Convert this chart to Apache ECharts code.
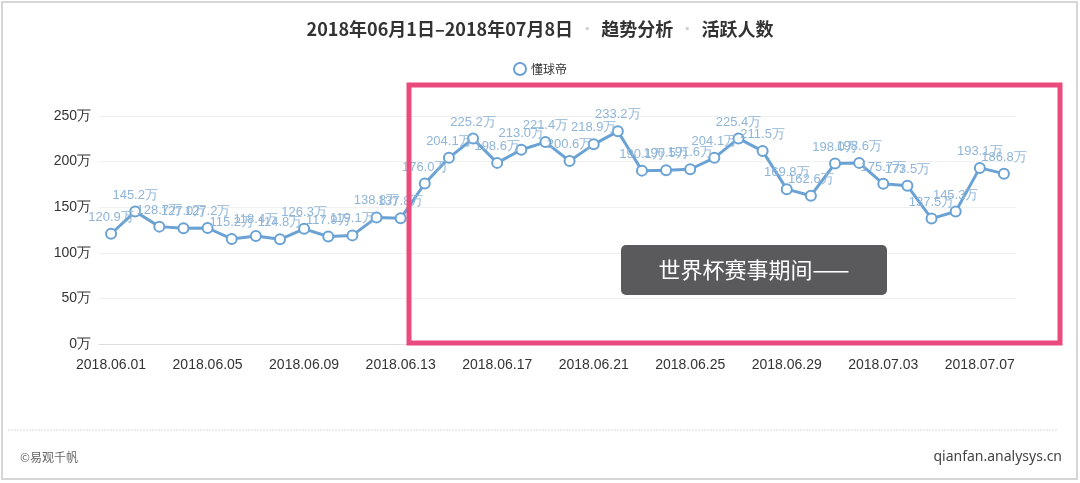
<!DOCTYPE html>
<html>

<head>
    <title></title>
    <meta charset="utf-8">
    <script src="https://cdn.jsdelivr.net/npm/echarts@6/dist/echarts.min.js"></script>
    <style>
        html,
        body {
            margin: 0;
            padding: 0;
            background: #fff;
        }

        #main {
            width: 1080px;
            height: 483px;
        }
    </style>
</head>

<body>
    <div id="main"></div>
    <script type="text/javascript">
        // 日期
        var dates = ['2018.06.01', '2018.06.02', '2018.06.03', '2018.06.04', '2018.06.05', '2018.06.06',
            '2018.06.07', '2018.06.08', '2018.06.09', '2018.06.10', '2018.06.11', '2018.06.12',
            '2018.06.13', '2018.06.14', '2018.06.15', '2018.06.16', '2018.06.17', '2018.06.18',
            '2018.06.19', '2018.06.20', '2018.06.21', '2018.06.22', '2018.06.23', '2018.06.24',
            '2018.06.25', '2018.06.26', '2018.06.27', '2018.06.28', '2018.06.29', '2018.06.30',
            '2018.07.01', '2018.07.02', '2018.07.03', '2018.07.04', '2018.07.05', '2018.07.06',
            '2018.07.07', '2018.07.08'];
        // 活跃人数（万）
        var active = [120.9, 145.2, 128.7, 127.0, 127.2, 115.2, 118.4, 114.8, 126.3, 117.9, 119.1, 138.8,
            137.8, 176.0, 204.1, 225.2, 198.6, 213.0, 221.4, 200.6, 218.9, 233.2, 190.1, 190.5,
            191.6, 204.1, 225.4, 211.5, 169.8, 162.6, 198.0, 198.6, 175.7, 173.5, 137.5, 145.3,
            193.1, 186.8];
        var yTicks = [0, 50, 100, 150, 200, 250];

        var myChart = echarts.init(document.getElementById('main'));
        var option = {
            backgroundColor: '#fff',
            title: {
                text: '2018年06月1日–2018年07月8日 {d|▪} 趋势分析 {d|▪} 活跃人数',
                left: 'center',
                top: 15,
                textStyle: {
                    fontFamily: 'Noto Sans CJK SC',
                    fontSize: 18,
                    fontWeight: 'bold',
                    color: '#333',
                    rich: {
                        d: { color: '#ccc', fontSize: 10, padding: [0, 5, 0, 5] }
                    }
                }
            },
            legend: {
                data: ['懂球帝'],
                top: 57,
                left: 'center',
                icon: 'emptyCircle',
                itemWidth: 12,
                itemHeight: 12,
                itemGap: 6,
                textStyle: { fontFamily: 'Noto Sans CJK SC', fontSize: 12, color: '#333' }
            },
            grid: {
                left: 99,
                right: 64,
                top: 116,
                bottom: 139,
                containLabel: false
            },
            xAxis: {
                type: 'category',
                data: dates,
                boundaryGap: true,
                axisLine: { lineStyle: { color: '#ddd' } },
                axisTick: { lineStyle: { color: '#ddd' }, interval: 3 },
                axisLabel: {
                    interval: 3,
                    color: '#333',
                    fontSize: 14,
                    margin: 14,
                    fontFamily: 'Liberation Sans'
                }
            },
            yAxis: {
                type: 'value',
                min: yTicks[0],
                max: yTicks[yTicks.length - 1],
                interval: 50,
                axisLine: { show: false },
                axisTick: { show: false },
                splitLine: { lineStyle: { color: '#f0f0f0' } },
                axisLabel: {
                    color: '#333',
                    fontSize: 14,
                    margin: 8,
                    fontFamily: 'Liberation Sans',
                    formatter: '{value}万'
                }
            },
            series: [{
                name: '懂球帝',
                type: 'line',
                data: active,
                symbol: 'emptyCircle',
                symbolSize: 10,
                lineStyle: { width: 3, color: '#6aa2d4' },
                itemStyle: { color: '#6aa2d4', borderWidth: 2, borderColor: '#6aa2d4' },
                label: {
                    show: true,
                    position: 'top',
                    distance: 4,
                    color: '#8fb5d8',
                    fontSize: 13,
                    fontFamily: 'Liberation Sans',
                    formatter: function (p) { return p.value.toFixed(1) + '万'; }
                },
                labelLayout: { hideOverlap: false },
                z: 3
            }],
            graphic: [
                // 外框
                { type: 'rect', shape: { x: 2, y: 2, width: 1075, height: 477 }, style: { fill: 'none', stroke: '#d6d6d6', lineWidth: 2 }, silent: true },
                // 底部分隔线
                { type: 'line', shape: { x1: 8, y1: 430, x2: 1058, y2: 430 }, style: { stroke: '#d8d8d8', lineWidth: 1, lineDash: [2, 1] }, silent: true },
                // 世界杯期间框
                { type: 'rect', shape: { x: 409, y: 85, width: 651, height: 258 }, style: { fill: 'none', stroke: '#ea4a7c', lineWidth: 5 }, z: 10, silent: true },
                // 提示
                { type: 'rect', shape: { x: 621, y: 245, width: 266, height: 50, r: 5 }, style: { fill: '#5a595b' }, z: 10, silent: true },
                {
                    type: 'text', x: 754, y: 270, z: 11, silent: true,
                    style: { text: '世界杯赛事期间——', fill: '#fff', fontSize: 22, fontFamily: 'Noto Sans CJK SC', align: 'center', verticalAlign: 'middle' }
                },
                {
                    type: 'text', x: 20, y: 457, silent: true,
                    style: { text: '©易观千帆', fill: '#666', fontSize: 12, fontFamily: 'Noto Sans CJK SC', verticalAlign: 'middle' }
                },
                {
                    type: 'text', x: 1062, y: 457, silent: true,
                    style: { text: 'qianfan.analysys.cn', fill: '#444', fontSize: 14, fontFamily: 'Noto Sans', align: 'right', verticalAlign: 'middle' }
                }
            ]
        };
        myChart.setOption(option);
    </script>
</body>

</html>
